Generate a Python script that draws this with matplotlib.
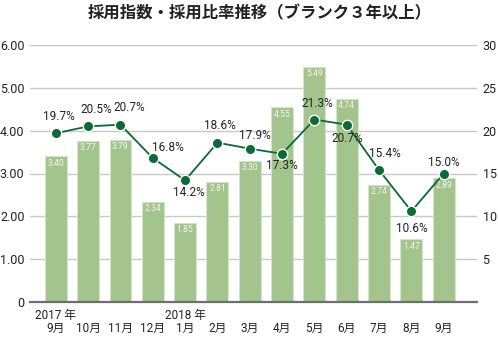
import matplotlib
matplotlib.use("Agg")
import matplotlib.pyplot as plt
import numpy as np

plt.rcParams['font.family'] = ['Roboto', 'Noto Sans CJK JP', 'DejaVu Sans']

title = "採用指数・採用比率推移（ブランク３年以上）"
years = ["2017 年", "", "", "", "2018 年", "", "", "", "", "", "", "", ""]
months = ["9月", "10月", "11月", "12月", "1月", "2月", "3月",
          "4月", "5月", "6月", "7月", "8月", "9月"]
index_values = [3.40, 3.77, 3.79, 2.34, 1.85, 2.81, 3.30, 4.55, 5.49, 4.74, 2.74, 1.47, 2.89]
ratio_values = [19.7, 20.5, 20.7, 16.8, 14.2, 18.6, 17.9, 17.3, 21.3, 20.7, 15.4, 10.6, 15.0]
left_ticks = [0, 1, 2, 3, 4, 5, 6]
right_ticks = [5, 10, 15, 20, 25, 30]

# label offsets in pixels (dx, dy) for line labels
label_offsets = [(3, 17), (8, 17), (9, 17), (15, 11), (4, -12), (2, 17), (5, 13),
                 (0, -12), (3, 16), (1, -14), (6, 17), (0, -17), (0, 11)]

W, H = 498, 338
fig = plt.figure(figsize=(W / 100, H / 100), dpi=100)
ax = fig.add_axes([30 / W, (H - 302) / H, (477 - 30) / W, (302 - 45) / H])

x = np.arange(len(months))
bar_color = "#a3c48c"
ax.bar(x, index_values, width=0.68, color=bar_color, edgecolor="#d6e5c9",
       linewidth=0.8, zorder=2)
for xi, v in zip(x, index_values):
    ax.annotate(f"{v:.2f}", (xi, v), xytext=(0, -7), textcoords="offset pixels",
                ha="center", va="center", fontsize=6.2, color="#f2f7ee", zorder=3)

ax.set_xlim(-0.8, 13.03)
ax.set_ylim(0, 6)
ax.set_yticks(left_ticks)
ax.set_yticklabels(["0" if t == 0 else f"{t:.2f}" for t in left_ticks], fontsize=9, color="#222222")
ax.set_xticks(x)
ax.set_xticklabels(months, fontsize=8.5, color="#222222")
ax.tick_params(axis="both", length=0)
ax.tick_params(axis="y", pad=4)
ax.tick_params(axis="x", pad=14)
for xi, yl in zip(x, years):
    if yl:
        ax.annotate(yl, (xi, 0), xytext=(0, -14), textcoords="offset pixels",
                    ha="center", va="center", fontsize=8.5, color="#222222",
                    annotation_clip=False)
ax.grid(axis="y", color="#c8c8c8", linewidth=1, zorder=0)
for s in ["top", "left", "right"]:
    ax.spines[s].set_visible(False)
ax.spines["bottom"].set_color("#6e6e6e")
ax.spines["bottom"].set_linewidth(1.6)
ax.spines["bottom"].set_zorder(5)

ax2 = ax.twinx()
ax2.set_ylim(0, 30)
ax2.set_yticks(right_ticks)
ax2.set_yticklabels([str(t) for t in right_ticks], fontsize=9, color="#222222")
ax2.tick_params(axis="y", length=0, pad=4)
for s in ["top", "left", "right", "bottom"]:
    ax2.spines[s].set_visible(False)
line_color = "#0b6a36"
ax2.plot(x, ratio_values, color=line_color, linewidth=1.3, marker="o", markersize=7.5,
         markerfacecolor=line_color, markeredgecolor="white", markeredgewidth=1.0, zorder=4)
for xi, v, (dx, dy) in zip(x, ratio_values, label_offsets):
    ax2.annotate(f"{v:.1f}%", (xi, v), xytext=(dx, dy), textcoords="offset pixels",
                 ha="center", va="center", fontsize=8.5, color="#222222", zorder=5)

fig.text(0.5 + 11 / W, 1 - 13 / H, title, ha="center", va="center", fontsize=11.8,
         fontweight="bold", color="#222222", family=["Noto Sans CJK JP", "DejaVu Sans"])

fig.savefig("out.png", dpi=100)
